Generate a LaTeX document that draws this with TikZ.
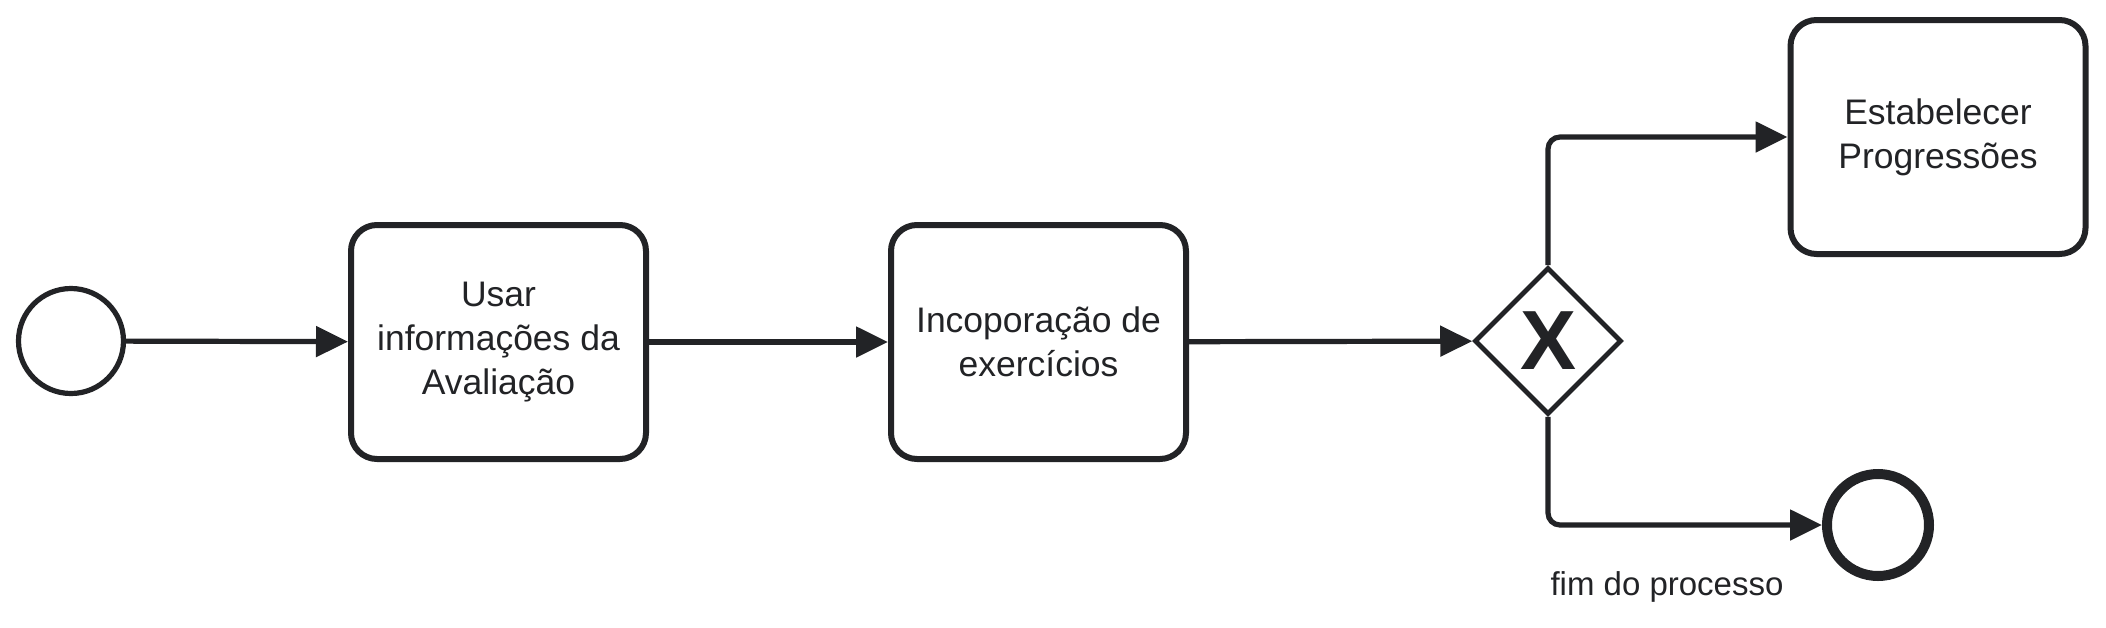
\documentclass[tikz,border=0pt]{standalone}
\usepackage{fontspec}
\setmainfont{Liberation Sans}
\usetikzlibrary{shapes.geometric,arrows.meta}
\definecolor{ink}{RGB}{34,35,38}
\begin{document}
\begin{tikzpicture}[x=0.5pt,y=-0.5pt,
  task/.style={draw=ink,line width=3pt,rounded corners=13pt,minimum width=147.5pt,minimum height=117pt,inner sep=0pt,align=center,text=ink,font=\fontsize{17.75}{22}\selectfont},
  startev/.style={circle,draw=ink,line width=2.6pt,minimum size=52.5pt,inner sep=0pt},
  endev/.style={circle,draw=ink,line width=5pt,minimum size=51pt,inner sep=0pt},
  gate/.style={diamond,draw=ink,line width=2.4pt,minimum width=73.5pt,minimum height=73.5pt,aspect=1,inner sep=0pt,text=ink,font=\fontsize{42}{42}\selectfont\bfseries},
  flow/.style={draw=ink,line width=2.6pt,rounded corners=6pt,-{Triangle[length=16pt,width=15pt]}},
  lbl/.style={text=ink,font=\fontsize{16.5}{20}\selectfont,inner sep=0pt}
]
\useasboundingbox[fill=white] (0,0) rectangle (2106,627);
\node[startev] (start) at (71,341) {};
\node[task] (t1) at (498.5,342) {Usar\\informações da\\Avaliação};
\node[task] (t2) at (1038.5,342) {Incoporação de\\exercícios};
\node[gate] (gw) at (1548,341) {X};
\node[task] (t3) at (1938,137) {Estabelecer\\Progressões};
\node[endev] (end) at (1878,525) {};
\node[lbl] (lab) at (1667,587) {fim do processo};
\draw[flow] (start) -- (t1);
\draw[flow] (t1) -- (t2);
\draw[flow] (t2) -- (gw);
\draw[flow] (gw.north) |- (t3.west);
\draw[flow] (gw.south) |- (end.west);
\end{tikzpicture}
\end{document}
